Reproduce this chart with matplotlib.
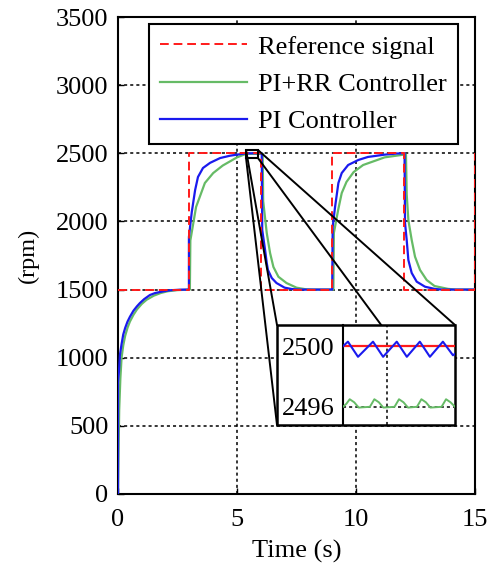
import matplotlib
matplotlib.use("Agg")
import matplotlib.pyplot as plt
from matplotlib.patches import Rectangle, ConnectionPatch

plt.rcParams['font.family'] = ['Liberation Serif', 'DejaVu Serif']
plt.rcParams['mathtext.fontset'] = 'stix'

# ---------------- data ----------------
ref_t = [0, 3, 3, 6, 6, 9, 9, 12, 12, 15, 15]
ref_v = [1500, 1500, 2500, 2500, 1500, 1500, 2500, 2500, 1500, 1500, 2500]

pi_t = [0, 0, 0.04, 0.08, 0.15, 0.22, 0.3, 0.4, 0.5, 0.65, 0.8, 0.92, 1.1, 1.34, 1.55,
        1.76, 2.0, 2.2, 2.6, 2.98,
        2.98, 3.1, 3.24, 3.36, 3.57, 3.87, 4.29, 4.7, 5.0, 5.38, 5.9, 6.04,
        6.06, 6.18, 6.25, 6.3, 6.46, 6.66, 7.0, 7.3, 7.6, 9.0,
        9.02, 9.12, 9.26, 9.4, 9.67, 10.1, 10.5, 11.2, 11.7, 12.04,
        12.06, 12.13, 12.2, 12.34, 12.55, 12.9, 13.3, 13.6, 15.0]
pi_v = [0, 815, 900, 1020, 1100, 1170, 1218, 1265, 1300, 1345, 1378, 1401, 1430, 1460, 1474,
        1482, 1490, 1495, 1499, 1500,
        1886, 2069, 2230, 2326, 2392, 2430, 2465, 2482, 2490, 2499.8, 2500, 2500,
        1937, 1790, 1695, 1644, 1585, 1548, 1514, 1504, 1500, 1500,
        1960, 2106, 2282, 2355, 2414, 2451, 2473, 2490, 2498, 2500,
        1988, 1864, 1717, 1622, 1558, 1521, 1505, 1500, 1500]

rr_t = [0, 0.05, 0.1, 0.15, 0.22, 0.3, 0.4, 0.5, 0.65, 0.8, 1.0, 1.2, 1.5, 1.8, 2.1, 2.5,
        3.02, 3.04, 3.28, 3.65, 4.0, 4.4, 5.0, 5.38, 5.9, 6.08,
        6.1, 6.25, 6.39, 6.53, 6.74, 7.08, 7.5, 7.9, 8.2, 9.05,
        9.07, 9.25, 9.4, 9.6, 9.9, 10.3, 10.8, 11.2, 12.0, 12.1,
        12.13, 12.2, 12.34, 12.48, 12.69, 12.97, 13.3, 13.87, 14.2, 15.0]
rr_v = [0, 616, 850, 1000, 1090, 1160, 1220, 1265, 1315, 1355, 1395, 1425, 1455, 1475, 1488, 1496,
        1500, 1860, 2106, 2282, 2355, 2410, 2470, 2496, 2496, 2496,
        2150, 1915, 1768, 1666, 1594, 1548, 1514, 1502, 1500, 1500,
        1915, 2084, 2208, 2290, 2362, 2414, 2445, 2470, 2490, 2490,
        2200, 2010, 1864, 1741, 1644, 1570, 1526, 1505, 1500, 1500]

# zoomed window
zoom_t = [5.38, 5.88]
zoom_rpm = [2465, 2524]

pi_in_t = [5.38, 5.402, 5.447, 5.514, 5.559, 5.62, 5.665, 5.723, 5.768, 5.826, 5.871, 5.88]
pi_in_v = [2500.0, 2500.3, 2499.3, 2500.3, 2499.3, 2500.3, 2499.3, 2500.3, 2499.3, 2500.3, 2499.4, 2499.5]

rr_in_t = [5.38, 5.395, 5.41, 5.43, 5.45, 5.50, 5.52, 5.54, 5.56, 5.61, 5.63, 5.65, 5.67,
           5.71, 5.73, 5.75, 5.77, 5.82, 5.84, 5.86, 5.88]
rr_in_v = [2496.0, 2496.2, 2496.5, 2496.3, 2495.95, 2496.0, 2496.5, 2496.3, 2495.95, 2496.0,
           2496.5, 2496.3, 2495.95, 2496.0, 2496.5, 2496.3, 2495.95, 2496.0, 2496.5, 2496.3, 2496.0]

x_ticks = [0, 5, 10, 15]
y_ticks = [0, 500, 1000, 1500, 2000, 2500, 3000, 3500]
inset_yticks = [2496, 2500]
inset_xgrid = [5.576]

RED = '#ff1a1a'
GREEN = '#66bb66'
BLUE = '#1a1aee'
FS = 19

W, H = 494, 565
fig = plt.figure(figsize=(W / 100, H / 100), dpi=100)
ax = fig.add_axes([118 / W, 1 - 494 / H, (475 - 118) / W, (494 - 17) / H])

ax.plot(ref_t, ref_v, color=RED, lw=1.4, ls=(0, (4.5, 2.5)), label='Reference signal', zorder=4)
ax.plot(rr_t, rr_v, color=GREEN, lw=1.6, label='PI+RR Controller', zorder=3)
ax.plot(pi_t, pi_v, color=BLUE, lw=1.6, label='PI Controller', zorder=3.5)

ax.set_xlim(0, 15)
ax.set_ylim(0, 3500)
ax.set_xticks(x_ticks)
ax.set_yticks(y_ticks)
ax.tick_params(direction='in', length=4, width=1, labelsize=FS)
ax.tick_params(axis='y', pad=7)
ax.tick_params(axis='x', pad=11)
ax.grid(True, color='black', ls=(0, (2, 2)), lw=1.1)
for s in ax.spines.values():
    s.set_linewidth(1.5)
ax.set_xlabel('Time (s)', fontsize=FS, labelpad=6)
ax.set_ylabel('(rpm)', fontsize=17.5, labelpad=12)

h, l = ax.get_legend_handles_labels()
leg = ax.legend(h, l, loc='upper right', bbox_to_anchor=(0.952, 0.985), fontsize=FS,
                frameon=True, fancybox=False, framealpha=1, edgecolor='black',
                handlelength=3.3, handletextpad=0.4, borderpad=0.42, labelspacing=0.52,
                borderaxespad=0)
leg.get_frame().set_linewidth(1.5)
leg.set_zorder(10)

# zoom rectangle
ax.add_patch(Rectangle((zoom_t[0], zoom_rpm[0]), zoom_t[1] - zoom_t[0], zoom_rpm[1] - zoom_rpm[0],
                       fill=False, edgecolor='black', lw=1.5, zorder=6))

# inset box (figure coords)
bx0, bx1 = 277 / W, 455 / W
by0, by1 = 1 - 425 / H, 1 - 325 / H
box = Rectangle((bx0, by0), bx1 - bx0, by1 - by0, transform=fig.transFigure,
                facecolor='white', edgecolor='black', lw=1.8, zorder=5)
fig.add_artist(box)

# connector lines
corners = [((zoom_t[0], zoom_rpm[1]), (bx0, by1)),
           ((zoom_t[0], zoom_rpm[0]), (bx0, by0)),
           ((zoom_t[1], zoom_rpm[1]), (bx1, by1)),
           ((zoom_t[1], zoom_rpm[0]), (bx1, by0))]
for pa, pb in corners:
    cp = ConnectionPatch(xyA=pa, coordsA=ax.transData, xyB=pb, coordsB=fig.transFigure,
                         color='black', lw=1.4, zorder=4)
    fig.add_artist(cp)

axi = fig.add_axes([343 / W, by0, bx1 - 343 / W, by1 - by0], zorder=6)
axi.patch.set_alpha(0)
axi.plot([zoom_t[0], zoom_t[1]], [2500, 2500], color=RED, lw=1.6, zorder=3)
axi.plot(rr_in_t, rr_in_v, color=GREEN, lw=1.4, zorder=3)
axi.plot(pi_in_t, pi_in_v, color=BLUE, lw=1.5, zorder=4)
axi.set_xlim(zoom_t[0], zoom_t[1])
axi.set_ylim(2494.8, 2501.4)
axi.set_xticks(inset_xgrid)
axi.set_yticks(inset_yticks)
axi.set_yticklabels([str(v) for v in inset_yticks])
axi.set_xticklabels([])
axi.tick_params(length=0, labelsize=FS, pad=6)
axi.grid(True, color='black', ls=(0, (2, 2)), lw=1.1)
for k in ['top', 'right', 'bottom']:
    axi.spines[k].set_visible(False)
axi.spines['left'].set_linewidth(1.5)

fig.savefig('out.png', dpi=100)
